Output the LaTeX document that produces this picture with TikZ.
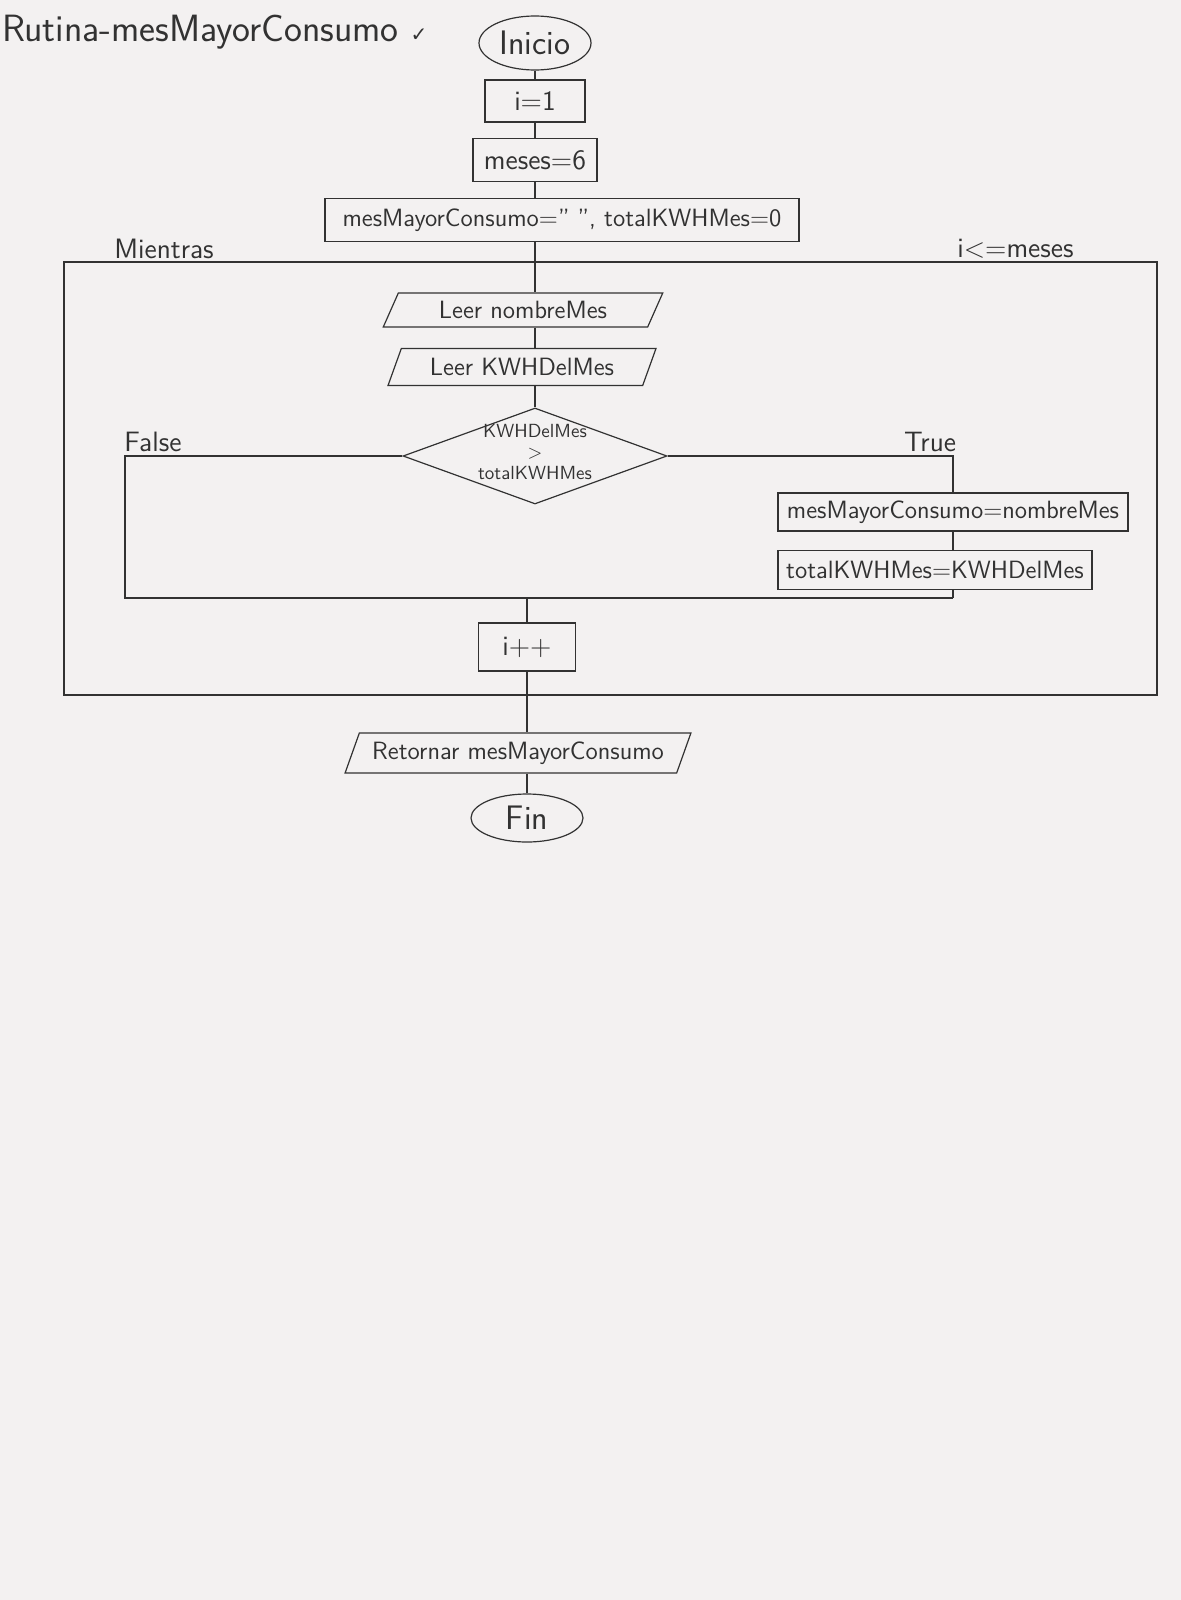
\documentclass[tikz,border=0pt]{standalone}
\usepackage{fontspec}
\usetikzlibrary{shapes.geometric}
\newfontfamily\symfont{DejaVu Sans}
\definecolor{paper}{RGB}{243,241,241}
\definecolor{pencil}{RGB}{50,50,50}

\begin{document}
\begin{tikzpicture}[x=0.5pt,y=-0.5pt,
  every node/.style={text=pencil},
  line/.style={draw=pencil,semithick},
  term/.style={ellipse,draw=pencil,semithick,inner sep=0pt,font=\sffamily\fontsize{17}{20}\selectfont},
  proc/.style={rectangle,draw=pencil,semithick,inner sep=0pt,font=\sffamily\fontsize{12.5}{15}\selectfont},
  io/.style={trapezium,trapezium left angle=60,trapezium right angle=120,trapezium stretches=true,
    draw=pencil,semithick,inner sep=0pt,font=\sffamily\fontsize{12.5}{15}\selectfont},
  decision/.style={diamond,draw=pencil,semithick,inner sep=0pt},
  tag/.style={inner sep=1pt,font=\sffamily\fontsize{14}{16}\selectfont}]
\fill[paper] (0,0) rectangle (1181,1600);
\useasboundingbox (0,0) rectangle (1181,1600);

\node[tag,anchor=west,font=\sffamily\fontsize{19}{22}\selectfont] (titulo) at (0,32) {Rutina-mesMayorConsumo {\symfont\fontsize{10}{12}\selectfont ✓}};

\node[term,minimum width=56pt,minimum height=27pt] (inicio) at (535,43) {Inicio};
\node[proc,minimum width=50pt,minimum height=21pt,font=\sffamily\fontsize{14}{16}\selectfont] (ini) at (535,101) {i=1};
\node[proc,minimum width=62pt,minimum height=21.5pt,font=\sffamily\fontsize{14}{16}\selectfont] (meses) at (535,160) {meses=6};
\node[proc,minimum width=237pt,minimum height=21.5pt] (initvars) at (562,220) {mesMayorConsumo=" ", totalKWHMes=0};

\coordinate (marcoA) at (64,262);
\coordinate (marcoB) at (1157,695);
\draw[line] (marcoA) rectangle (marcoB);
\node[tag,anchor=south west] (mientras) at (112,261) {Mientras};
\node[tag,anchor=south west] (condicion) at (955,261) {i<=meses};

\node[io,minimum width=140pt,minimum height=17pt] (leernombre) at (523,310) {Leer nombreMes};
\node[io,minimum width=134pt,minimum height=18.5pt] (leerkwh) at (522,367) {Leer KWHDelMes};
\node[decision,minimum width=132pt,minimum height=48pt] (cond) at (535,456) {};
\node[inner sep=0pt,align=center,yshift=2pt,font=\sffamily\fontsize{9.5}{10.5}\selectfont] (condtxt) at (cond) {KWHDelMes\\>\\totalKWHMes};

\node[tag,anchor=south west] (falso) at (122,454) {False};
\node[tag,anchor=south] (verdad) at (930,454) {True};

\node[proc,minimum width=175pt,minimum height=19pt] (asigmes) at (953,512) {mesMayorConsumo=nombreMes};
\node[proc,minimum width=157pt,minimum height=19.5pt] (asigtotal) at (935,570) {totalKWHMes=KWHDelMes};
\coordinate (juntaizq) at (125,598);
\coordinate (juntader) at (953,598);

\node[proc,minimum width=48.5pt,minimum height=24pt,font=\sffamily\fontsize{14}{16}\selectfont] (incr) at (527,647) {i++};
\node[io,minimum width=173pt,minimum height=20pt] (retornar) at (518,753) {Retornar mesMayorConsumo};
\node[term,minimum width=56pt,minimum height=24pt] (fin) at (527,818) {Fin};

\draw[line] (inicio) -- (ini);
\draw[line] (ini) -- (meses);
\draw[line] (meses) -- (meses |- initvars.north);
\draw[line] (meses |- initvars.south) -- (meses |- leernombre.north);
\draw[line] (meses |- leernombre.south) -- (meses |- leerkwh.north);
\draw[line] (meses |- leerkwh.south) -- (cond);
\draw[line] (cond.west) -| (juntaizq) -- (juntader);
\draw[line] (cond.east) -| (asigmes.north);
\draw[line] (asigmes) -- (asigmes |- asigtotal.north);
\draw[line] (asigmes |- asigtotal.south) -- (juntader);
\draw[line] (incr) -- (incr |- juntader);
\draw[line] (incr) -- (incr |- retornar.north);
\draw[line] (incr |- retornar.south) -- (fin);
\end{tikzpicture}
\end{document}
